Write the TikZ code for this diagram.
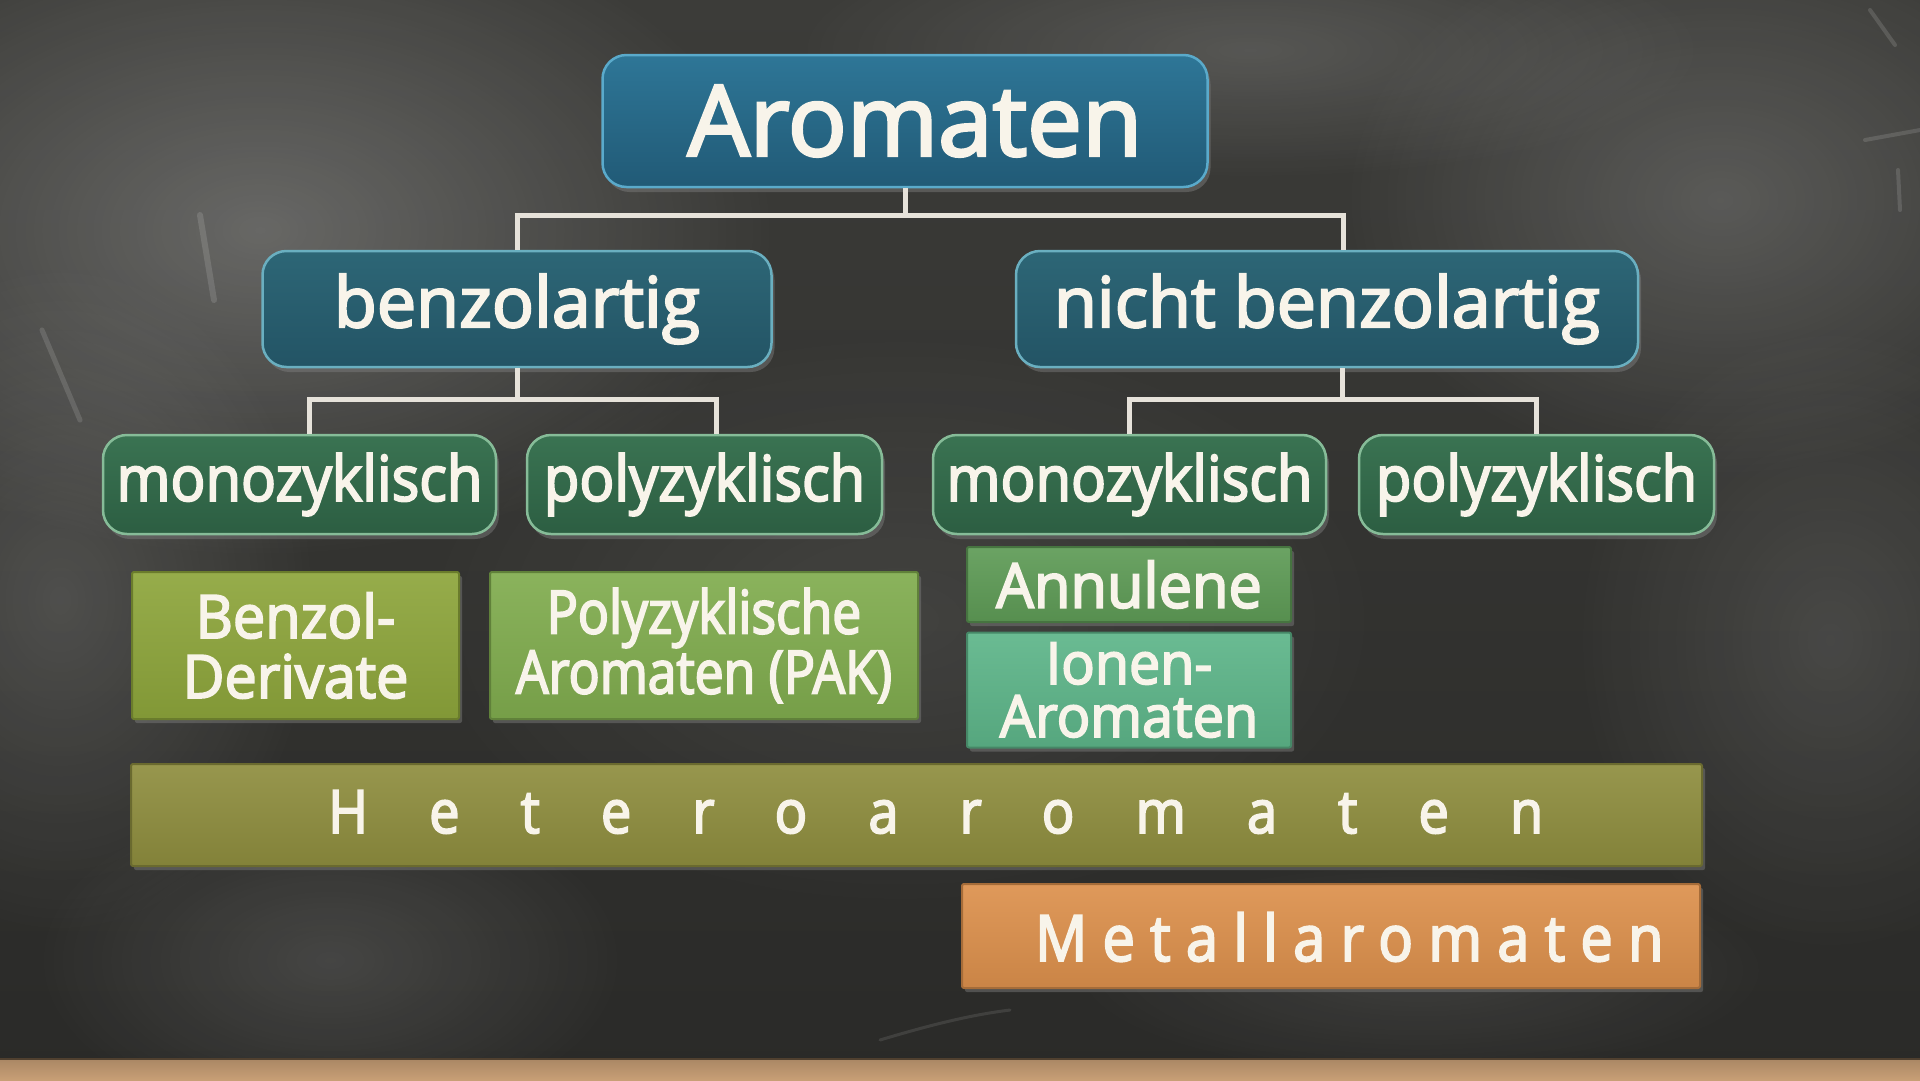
\documentclass[tikz,border=0pt]{standalone}
\usepackage{fontspec}
\setmainfont{Open Sans}[FakeBold=3]
\newfontfamily\osb[FakeBold=3]{Open Sans}
\newfontfamily\osc[FakeStretch=0.92,FakeBold=3]{Open Sans}
\newfontfamily\osn[FakeStretch=0.96,FakeBold=3]{Open Sans}
\newfontfamily\oscc[FakeStretch=0.86,FakeBold=3]{Open Sans}
\newfontfamily\oshet[FakeStretch=0.9,LetterSpace=102,FakeBold=3]{Open Sans}
\newfontfamily\osmet[FakeStretch=0.9,LetterSpace=24,FakeBold=3]{Open Sans}
\usetikzlibrary{shadows,calc,fadings}
\tikzfading[name=softblob, inner color=transparent!0, outer color=transparent!100]
\definecolor{bgTop}{HTML}{3C3C39}
\definecolor{bgBot}{HTML}{2A2A28}
\definecolor{txtc}{HTML}{F8F4EA}
\definecolor{linec}{HTML}{E6E2DA}
\definecolor{aroTop}{HTML}{2E7697}
\definecolor{aroBot}{HTML}{215A76}
\definecolor{aroEdge}{HTML}{5AAACB}
\definecolor{benTop}{HTML}{2D6676}
\definecolor{benBot}{HTML}{235465}
\definecolor{benEdge}{HTML}{6AAFC0}
\definecolor{monTop}{HTML}{3A7352}
\definecolor{monBot}{HTML}{2C5E42}
\definecolor{monEdge}{HTML}{86BC98}
\definecolor{bdC}{HTML}{8DA53B}
\definecolor{pakC}{HTML}{80AC4E}
\definecolor{annC}{HTML}{5E9B56}
\definecolor{ionC}{HTML}{5DB589}
\definecolor{hetC}{HTML}{8E8D3E}
\definecolor{metC}{HTML}{DC904C}
\definecolor{woodC}{HTML}{C89F76}
\begin{document}
\begin{tikzpicture}[x=1pt,y=-1pt,
  conn/.style={draw=linec, line width=5pt},
  pill/.style n args={3}{rounded corners=24pt, top color=#1, bottom color=#2,
    draw=#3, line width=2.5pt, text=txtc, inner sep=0pt,
    drop shadow={shadow xshift=3pt, shadow yshift=-5pt, opacity=0.45}},
  slab/.style={top color=#1!92!white, bottom color=#1!92!black, draw=#1!75!black, line width=2pt, rounded corners=2pt,
    text=txtc, inner sep=0pt,
    drop shadow={shadow xshift=3pt, shadow yshift=-4pt, opacity=0.45}},
  lbl/.style={text=txtc, inner sep=0pt},
  blob/.style={fill=white, fill opacity=#1, path fading=softblob},
  chalkmark/.style={draw=white, line cap=round, opacity=0.13}
]
\useasboundingbox (0,0) rectangle (1920,1080);
% chalkboard
\shade[top color=bgTop, bottom color=bgBot] (0,0) rectangle (1920,1080);
\begin{scope}
\clip (0,0) rectangle (1920,1059);
\fill[blob=0.24] (260,230) ellipse [x radius=520pt, y radius=330pt];
\fill[blob=0.14] (60,600) ellipse [x radius=260pt, y radius=340pt];
\fill[blob=0.12] (330,960) ellipse [x radius=300pt, y radius=170pt];
\fill[blob=0.09] (1420,970) ellipse [x radius=360pt, y radius=110pt];
\fill[blob=0.17] (1720,200) ellipse [x radius=380pt, y radius=280pt];
\fill[blob=0.11] (1830,640) ellipse [x radius=260pt, y radius=320pt];
\fill[blob=0.14] (1250,50) ellipse [x radius=460pt, y radius=130pt];
\fill[blob=0.08] (900,620) ellipse [x radius=500pt, y radius=300pt];
% faint chalk marks
\draw[chalkmark, line width=6pt] (200,215) -- (214,300);
\draw[chalkmark, line width=5pt] (42,330) -- (80,420);
\draw[chalkmark, line width=4pt] (1870,10) -- (1895,45);
\draw[chalkmark, line width=4pt] (1865,140) -- (1920,130);
\draw[chalkmark, line width=4pt] (1898,170) -- (1900,210);
\draw[chalkmark, line width=3pt, opacity=0.1] (880,1040) .. controls (930,1025) and (970,1015) .. (1010,1010);
\end{scope}
% wooden ledge
\shade[top color=woodC!85!black, bottom color=woodC] (0,1059) rectangle (1920,1080);
\draw[draw=woodC!40!black, line width=2pt] (0,1059) -- (1920,1059);

% nodes
\node[pill={aroTop}{aroBot}{aroEdge}, minimum width=605pt, minimum height=132pt,
  font=\osb\fontsize{98}{100}\selectfont] (aro) at (905,121) {\hspace{20pt}Aromaten};
\node[pill={benTop}{benBot}{benEdge}, minimum width=509pt, minimum height=116pt,
  font=\osb\fontsize{70}{76}\selectfont] (benz) at (517,309) {benzolartig};
\node[pill={benTop}{benBot}{benEdge}, minimum width=622pt, minimum height=116pt,
  font=\osb\fontsize{70}{76}\selectfont] (nbenz) at (1327,309) {nicht benzolartig};

\node[pill={monTop}{monBot}{monEdge}, minimum width=393pt, minimum height=99pt,
  font=\osc\fontsize{63}{66}\selectfont] (monoL) at (299.5,484.5) {monozyklisch};
\node[pill={monTop}{monBot}{monEdge}, minimum width=355pt, minimum height=99pt,
  font=\osc\fontsize{63}{66}\selectfont] (polyL) at (704.5,484.5) {polyzyklisch};
\node[pill={monTop}{monBot}{monEdge}, minimum width=393pt, minimum height=99pt,
  font=\osc\fontsize{63}{66}\selectfont] (monoR) at (1129.5,484.5) {monozyklisch};
\node[pill={monTop}{monBot}{monEdge}, minimum width=355pt, minimum height=99pt,
  font=\osc\fontsize{63}{66}\selectfont] (polyR) at (1536.5,484.5) {polyzyklisch};

\node[slab=bdC, minimum width=327pt, minimum height=147pt, align=center,
  font=\osn\fontsize{60}{60}\selectfont] (bd) at (295.5,645.5) {Benzol-\\Derivate};
\node[slab=pakC, minimum width=428pt, minimum height=147pt, align=center,
  font=\oscc\fontsize{60}{60}\selectfont] (pak) at (704,645.5) {Polyzyklische\\Aromaten (PAK)};
\node[slab=annC, minimum width=324pt, minimum height=75pt,
  font=\osn\fontsize{62}{62}\selectfont] (ann) at (1129,584.5) {Annulene};
\node[slab=ionC, minimum width=324pt, minimum height=115pt, align=center,
  font=\osn\fontsize{58}{53}\selectfont] (ion) at (1129,690) {Ionen-\\Aromaten};

\node[slab=hetC, minimum width=1571pt, minimum height=102pt] (het) at (916.5,815) {};
\node[lbl, anchor=base west, font=\oshet\fontsize{60}{60}\selectfont] (hettxt) at (328,833) {Heteroaromaten};
\node[slab=metC, minimum width=738pt, minimum height=104pt] (met) at (1331,936) {};
\node[lbl, anchor=base west, font=\osmet\fontsize{64}{64}\selectfont] (mettxt) at (1035,961) {Metallaromaten};

% connectors
\draw[conn] (aro.south) -- ++(0,27) coordinate (aj);
\draw[conn] (benz.north) |- (aj) -| ($(nbenz.north)+(16,0)$);
\draw[conn] (benz.south) -- ++(0,31) coordinate (bj);
\draw[conn] ($(monoL.north)+(10,0)$) |- (bj) -| ($(polyL.north)+(12,0)$);
\draw[conn] ($(nbenz.south)+(15,0)$) -- ++(0,31) coordinate (nj);
\draw[conn] (monoR.north) |- (nj) -| (polyR.north);
\end{tikzpicture}
\end{document}
